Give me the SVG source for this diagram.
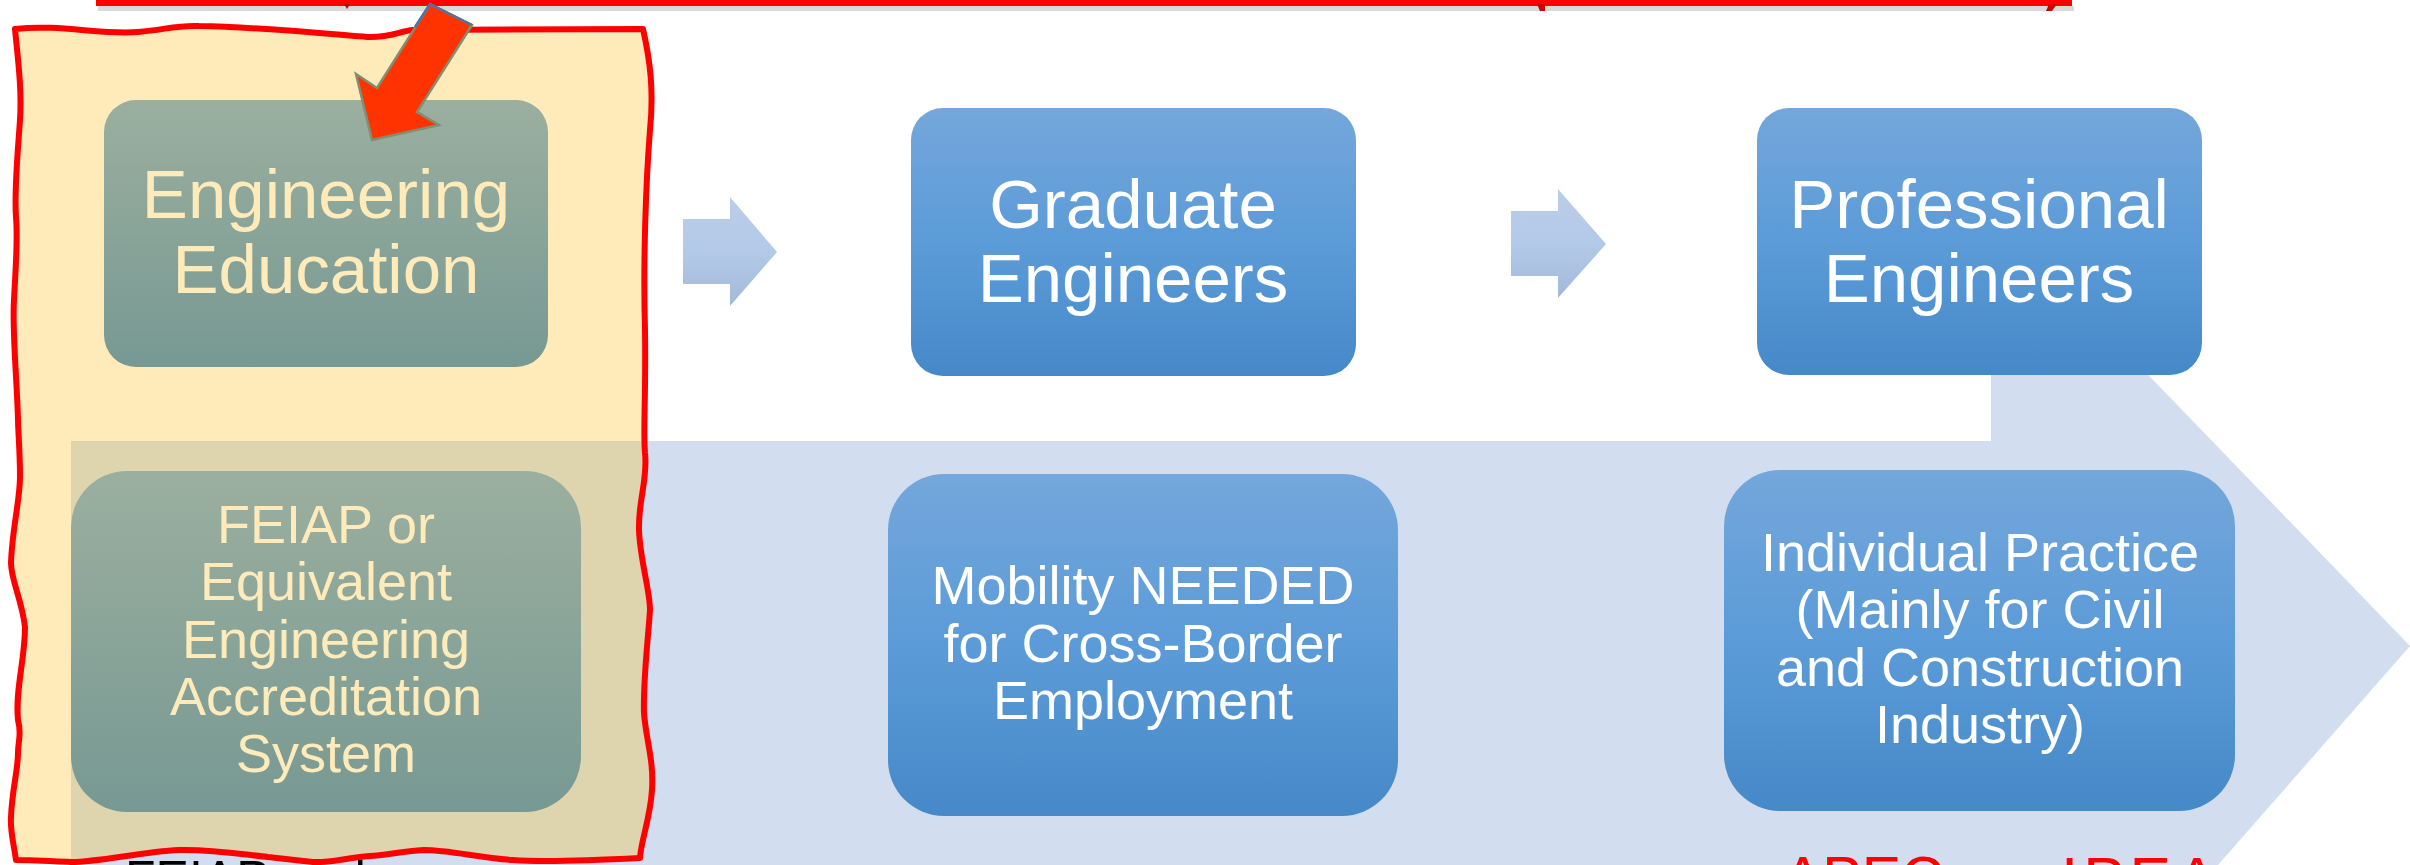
<svg xmlns="http://www.w3.org/2000/svg" width="2410" height="865" viewBox="0 0 2410 865">
<defs>
<style>
.t{font-family:"Liberation Sans",Arial,sans-serif;text-anchor:middle}
.big{font-size:69px}
.sm{font-size:54px}
.cream{fill:#FFEBB9}
.white{fill:#FFFFFF}
.note{font-family:"Liberation Sans",Arial,sans-serif}
</style>
<linearGradient id="gBlue" x1="0" y1="0" x2="0" y2="1">
<stop offset="0" stop-color="#74A7DB"/>
<stop offset="0.5" stop-color="#5B9BD8"/>
<stop offset="1" stop-color="#4689C8"/>
</linearGradient>
<linearGradient id="gGreen" x1="0" y1="0" x2="0" y2="1">
<stop offset="0" stop-color="#9BAF9F"/>
<stop offset="1" stop-color="#779993"/>
</linearGradient>
<linearGradient id="gArrow" x1="0" y1="0" x2="0" y2="1">
<stop offset="0" stop-color="#BBCEEA"/>
<stop offset="0.5" stop-color="#B3C9E8"/>
<stop offset="1" stop-color="#A3B9DA"/>
</linearGradient>
<path id="hl" d="M15,29 C60,24 100,35 138,32 C165,30 175,25 199,26 C260,27 330,34 367,37 C390,38 400,31 413,30 L643,29 C650,60 654,90 650,130 C646,180 643,260 645,330 C646,400 643,430 645,453 C648,480 638,500 639,530 C640,560 650,590 650,610 C648,640 643,680 644,713 C646,740 654,760 652,790 C650,820 641,840 640,858 C600,860 540,862 513,860 C480,858 450,850 424,850 C400,851 385,856 370,856 C345,858 330,863 313,862 C290,860 280,858 268,857 C240,854 210,849 179,850 C140,852 100,862 71,862 C50,861 30,860 16,860 C13,840 10,830 11,817 C12,790 18,770 18,753 C18,740 22,735 18,720 C15,690 25,660 25,627 C22,600 11,580 11,563 C12,530 20,500 20,477 C20,450 18,430 18,420 C17,380 12,330 14,300 C16,260 18,240 16,217 C14,190 18,150 20,120 C22,90 18,60 15,29 Z"/>
<clipPath id="clipHL"><use href="#hl"/></clipPath>
</defs>

<g id="band">
<path d="M71,441 L1991,441 L1991,212 L2410,646 L2218,865 L2218,900 L71,900 Z" fill="#D2DEEF"/>
</g>

<g id="bottom-texts">
<text class="note" x="1783" y="898" font-size="59" fill="#FF0000">APEC</text>
<text class="note" x="2061" y="900" font-size="62" letter-spacing="5" fill="#FF0000">IPEA</text>
</g>

<g id="highlight">
<use href="#hl" fill="#FFEBB9"/>
<rect x="71" y="441" width="600" height="440" fill="#DED5AE" clip-path="url(#clipHL)"/>
</g>

<g id="bottom-left-text">
<text class="note" x="125" y="896" font-size="50" fill="#000000">FEIAP and</text>
</g>

<g id="connectors">
<path d="M683,219 L730,219 L730,197 L777,252 L730,306 L730,284 L683,284 Z" fill="url(#gArrow)"/>
<path d="M1511,211 L1558,211 L1558,189 L1606,244 L1558,298 L1558,276 L1511,276 Z" fill="url(#gArrow)"/>
</g>

<g id="node-engineering-education">
<rect x="104" y="100" width="444" height="267" rx="32" fill="url(#gGreen)"/>
<text class="t big cream" x="326" y="218">Engineering</text>
<text class="t big cream" x="326" y="293">Education</text>
</g>

<g id="node-graduate-engineers">
<rect x="911" y="108" width="445" height="268" rx="32" fill="url(#gBlue)"/>
<text class="t big white" x="1133" y="228">Graduate</text>
<text class="t big white" x="1133" y="302">Engineers</text>
</g>

<g id="node-professional-engineers">
<rect x="1757" y="108" width="445" height="267" rx="32" fill="url(#gBlue)"/>
<text class="t big white" x="1979" y="228">Professional</text>
<text class="t big white" x="1979" y="302">Engineers</text>
</g>

<g id="node-feiap">
<rect x="71" y="471" width="510" height="341" rx="56" fill="url(#gGreen)"/>
<text class="t sm cream" x="326" y="543">FEIAP or</text>
<text class="t sm cream" x="326" y="600">Equivalent</text>
<text class="t sm cream" x="326" y="658">Engineering</text>
<text class="t sm cream" x="326" y="715">Accreditation</text>
<text class="t sm cream" x="326" y="772">System</text>
</g>

<g id="node-mobility">
<rect x="888" y="474" width="510" height="342" rx="56" fill="url(#gBlue)"/>
<text class="t sm white" x="1143" y="604">Mobility NEEDED</text>
<text class="t sm white" x="1143" y="662">for Cross-Border</text>
<text class="t sm white" x="1143" y="719">Employment</text>
</g>

<g id="node-individual-practice">
<rect x="1724" y="470" width="511" height="341" rx="56" fill="url(#gBlue)"/>
<text class="t sm white" x="1980" y="571">Individual Practice</text>
<text class="t sm white" x="1980" y="628">(Mainly for Civil</text>
<text class="t sm white" x="1980" y="686">and Construction</text>
<text class="t sm white" x="1980" y="743">Industry)</text>
</g>

<g id="highlight-border">
<use href="#hl" fill="none" stroke="#FF0000" stroke-width="6" stroke-linejoin="round"/>
</g>

<g id="top-bar">
<rect x="98" y="6" width="1976" height="5" fill="#000" opacity="0.15"/>
<rect x="96" y="0" width="1976" height="6" fill="#FF0000"/>
<path d="M344,4 L350,4 L347,9 Z" fill="#CC0000"/>
<path d="M1537,4 L1545,4 L1545,11 L1540,11 Z" fill="#CC0000"/>
<path d="M2049,4 L2057,4 L2052,11 L2046,11 Z" fill="#CC0000"/>
</g>

<g id="red-arrow">
<path d="M430,4 L472,25 L417,112 L439,125 L372,140 L356,74 L377,88 Z" fill="#FF3300" stroke="#7F8F74" stroke-width="2.5" stroke-linejoin="miter"/>
<path d="M415,27 L430,4 L472,25" fill="none" stroke="#4A74A8" stroke-width="2.5"/>
</g>
</svg>
